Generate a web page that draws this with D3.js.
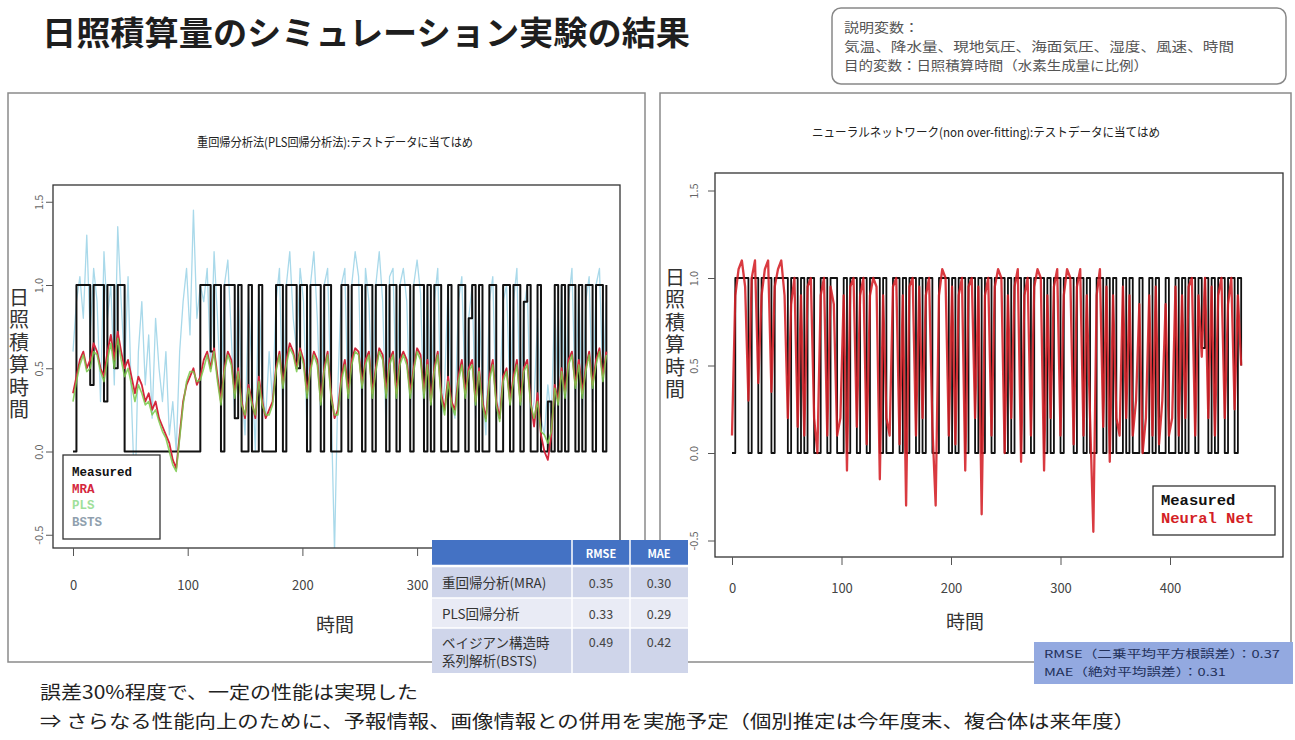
<!DOCTYPE html>
<html>
<head>
<meta charset="utf-8">
<script src="https://cdn.jsdelivr.net/npm/d3@7"></script>
<style>
  body { margin: 0; background: #fff; }
  svg { display: block; font-family: "Noto Sans CJK JP", "Noto Sans", sans-serif; }
</style>
</head>
<body>
<svg id="chart" width="1295" height="740"></svg>
<script>
// ---- data: test data, one value every 3 hours (t = 0 .. 465) ----
const timeStep = 3;

// measured sunshine (regression test set)
const measured = [
  0,1,1,1,1,0.4,1,1,1,0.3,1,1,0.5,1,1,
  0,0,0,0,0,0,0,0,0,0,0,0,0,0,0,
  0,0,0,0,0,0,0,1,
  1,1,0.6,1,1,0,1,1,1,0.2,1,
  0,0,1,0,0,1,0,0,0,0,
  1,1,0,1,1,1,0.5,1,1,0,1,1,1,0,1,1,0,
  0,0,1,1,0,
  1,1,1,0,1,1,0,1,1,1,0,1,1,0,1,
  1,1,0,1,1,1,0,1,0,1,1,0,0,1,0,
  0,1,1,0,0.8,1,0,1,0,0,1,1,0,0,1,
  1,0,1,1,0,0.9,1,0,0,1,0,0,0.3,0,1,
  0,1,0,1,1,0,1,0,1,1,0,1,1,0,1
];

const mra = [
  0.35,0.45,0.55,0.6,0.5,0.55,0.65,0.6,0.5,0.45,0.6,0.7,0.55,0.72,0.6,
  0.5,0.55,0.45,0.35,0.45,0.4,0.3,0.35,0.25,0.3,0.2,0.15,0.1,0.05,-0.05,
  -0.1,0.1,0.3,0.4,0.45,0.5,0.4,0.45,
  0.55,0.6,0.5,0.62,0.45,0.3,0.5,0.6,0.55,0.35,0.5,
  0.3,0.2,0.4,0.3,0.2,0.45,0.3,0.2,0.25,0.3,
  0.5,0.6,0.4,0.55,0.65,0.6,0.5,0.62,0.55,0.35,0.5,0.6,0.55,0.3,0.5,0.6,0.35,
  0.2,0.25,0.45,0.55,0.35,
  0.55,0.62,0.6,0.4,0.55,0.6,0.35,0.5,0.62,0.58,0.35,0.55,0.6,0.35,0.55,
  0.6,0.55,0.35,0.5,0.62,0.58,0.35,0.55,0.3,0.5,0.6,0.35,0.25,0.45,0.3,
  0.25,0.45,0.55,0.35,0.5,0.55,0.3,0.5,0.3,0.2,0.45,0.55,0.3,0.2,0.45,
  0.5,0.3,0.45,0.55,0.3,0.5,0.55,0.3,0.15,0.35,0.1,0.0,-0.05,0.1,0.4,
  0.3,0.5,0.35,0.55,0.6,0.4,0.55,0.35,0.5,0.6,0.4,0.55,0.62,0.45,0.6
];

const pls = [
  0.3,0.42,0.52,0.58,0.48,0.5,0.6,0.58,0.48,0.42,0.55,0.65,0.5,0.68,0.55,
  0.45,0.5,0.4,0.3,0.4,0.35,0.28,0.3,0.22,0.25,0.18,0.12,0.08,0.0,-0.08,
  -0.12,0.08,0.28,0.42,0.48,0.48,0.42,0.43,
  0.5,0.58,0.48,0.6,0.42,0.28,0.48,0.58,0.52,0.32,0.48,
  0.28,0.22,0.38,0.28,0.22,0.42,0.28,0.22,0.22,0.28,
  0.48,0.58,0.38,0.52,0.62,0.58,0.48,0.6,0.52,0.32,0.48,0.58,0.52,0.28,0.48,0.58,0.32,
  0.22,0.22,0.42,0.52,0.32,
  0.52,0.6,0.58,0.38,0.52,0.58,0.32,0.48,0.6,0.55,0.32,0.52,0.58,0.32,0.52,
  0.58,0.52,0.32,0.48,0.6,0.55,0.32,0.52,0.28,0.48,0.58,0.32,0.22,0.42,0.28,
  0.22,0.42,0.52,0.32,0.48,0.52,0.28,0.48,0.28,0.18,0.42,0.52,0.28,0.18,0.42,
  0.48,0.28,0.42,0.52,0.28,0.48,0.52,0.28,0.2,0.3,0.12,0.1,0.05,0.12,0.38,
  0.28,0.48,0.32,0.52,0.58,0.38,0.52,0.32,0.48,0.58,0.38,0.52,0.6,0.42,0.58
];

const bsts = [
  0.6,0.9,1.05,0.8,1.3,0.7,1.1,0.9,0.3,1.2,0.8,1.0,0.4,1.35,0.9,
  0.5,1.05,0.3,-0.3,0.6,0.9,0.4,0.7,0.2,0.8,0.5,0.3,0.6,0.1,0.3,
  0.0,0.6,0.9,1.1,0.7,1.45,0.8,1.0,
  0.9,1.1,0.5,1.2,0.8,0.3,1.0,1.15,0.7,0.2,1.0,
  0.4,0.1,0.9,0.5,0.0,1.0,0.4,0.2,0.6,0.3,
  0.9,1.1,0.2,1.0,1.2,0.8,0.6,1.1,0.9,0.1,1.0,1.2,0.8,0.2,1.0,1.1,0.3,
  -0.6,0.4,1.0,1.1,0.2,
  1.0,1.2,1.05,0.2,1.1,0.9,0.3,1.0,1.2,0.9,0.1,1.05,1.1,0.3,1.0,
  1.1,0.9,0.2,1.0,1.15,0.95,0.2,1.0,0.3,0.9,1.1,0.2,0.4,1.0,0.3,
  0.2,0.9,1.05,0.3,0.8,1.0,0.2,0.9,0.4,0.1,0.9,1.05,0.2,0.3,0.9,
  1.0,0.3,0.9,1.1,0.2,0.85,1.0,0.2,0.3,0.8,0.2,0.1,0.4,0.2,0.9,
  0.3,1.0,0.2,0.9,1.1,0.3,1.0,0.2,0.9,1.05,0.3,1.0,1.1,0.4,0.9
];

// measured sunshine (neural network test set)
const measuredNN = [
  0,1,1,1,1,0,1,1,0,1,1,1,0,1,1,
  1,1,0,1,1,0,1,0,1,1,0,0,1,1,0,
  1,1,0,0,1,0,1,1,0,1,1,0,1,1,1,
  0,1,0,0,1,1,0,1,0,1,1,0,1,0,1,
  1,0,0,1,1,1,0,1,0,1,1,0,1,1,0,
  1,0,1,1,0,1,1,1,0,1,0,1,1,0,1,
  1,0,1,1,1,0,1,0,1,1,0,1,1,1,0,
  1,1,0,1,0,0,1,1,0,1,0,1,0,0,1,
  0,1,0,0,1,0,0,1,0,1,0,0,1,0,0,
  1,0,1,0,1,1,0,1,0.6,1,0,1,0,1,1,
  0,1,1,0,1,0.5
];

const neuralNet = [
  0.1,0.9,1.05,1.1,0.95,0.3,1.0,1.1,0.4,0.9,1.05,1.1,0.35,0.95,1.05,
  1.1,0.9,0.2,0.85,1.0,0.15,0.9,0.1,0.95,1.0,0.2,0.0,0.9,1.0,0.1,
  0.95,0.85,0.1,0.2,0.9,-0.1,0.95,1.0,0.15,0.9,1.0,0.05,0.9,1.0,0.95,
  -0.15,0.9,0.2,0.1,0.95,1.0,0.05,0.9,-0.3,0.95,1.0,0.1,0.95,0.2,0.9,
  1.0,0.15,-0.3,0.9,1.05,1.0,0.1,0.95,0.05,0.9,1.0,-0.1,0.95,1.0,0.2,
  0.95,-0.35,0.9,1.0,0.1,0.95,1.05,1.0,0.0,0.9,0.2,0.95,1.05,-0.05,0.9,
  1.0,0.1,0.95,1.05,1.0,-0.1,0.9,0.2,0.95,1.05,0.1,0.9,1.05,1.0,0.05,
  0.95,1.05,0.1,0.9,0.2,-0.45,0.9,1.05,0.15,0.95,-0.05,0.9,0.2,0.1,0.95,
  0.2,0.9,0.1,0.3,0.85,0.0,0.2,0.9,0.1,0.95,0.05,0.3,0.85,0.1,0.2,
  0.95,0.1,0.9,0.2,0.95,1.0,0.1,0.9,0.55,1.0,0.2,0.95,0.1,0.9,1.0,
  0.2,0.85,1.0,0.25,0.9,0.5
];

const xTicks = [0, 100, 200, 300, 400];
const yTicks = [-0.5, 0, 0.5, 1, 1.5];
const yTickLabels = ["-0.5", "0.0", "0.5", "1.0", "1.5"];

const leftLegend = ["Measured", "MRA", "PLS", "BSTS"];
const rightLegend = ["Measured", "Neural Net"];

const tableHeader = ["", "RMSE", "MAE"];
const tableRows = [
  [["重回帰分析(MRA)"], "0.35", "0.30"],
  [["PLS回帰分析"], "0.33", "0.29"],
  [["ベイジアン構造時", "系列解析(BSTS)"], "0.49", "0.42"]
];
const nnScores = ["RMSE（二乗平均平方根誤差）：0.37", "MAE（絶対平均誤差）：0.31"];

// ---- styles ----
const col = {
  measured: "#111111",
  mra: "#d4263c",
  pls: "#79c94a",
  bsts: "#a9d9ea",
  nn: "#d41f26",
  axis: "#555555",
  text: "#333333"
};

const svg = d3.select("#chart");

// ---- slide title & notes ----
svg.append("text").attr("x", 42).attr("y", 45)
  .attr("font-size", 33).attr("font-weight", 700).attr("fill", "#1e1e1e")
  .attr("textLength", 648).attr("lengthAdjust", "spacingAndGlyphs")
  .text("日照積算量のシミュレーション実験の結果");

svg.append("rect").attr("x", 832).attr("y", 8).attr("width", 454).attr("height", 76)
  .attr("rx", 9).attr("fill", "#fff").attr("stroke", "#888").attr("stroke-width", 1.5);
const noteLines = [
  ["説明変数：", 75],
  ["気温、降水量、現地気圧、海面気圧、湿度、風速、時間", 390],
  ["目的変数：日照積算時間（水素生成量に比例）", 304]
];
noteLines.forEach(([t, w], i) => {
  svg.append("text").attr("x", 844).attr("y", 32 + i * 19)
    .attr("font-size", 13).attr("fill", "#555")
    .attr("textLength", w).attr("lengthAdjust", "spacingAndGlyphs").text(t);
});

// ---- panel frames ----
svg.append("rect").attr("x", 8).attr("y", 93).attr("width", 637).attr("height", 569)
  .attr("fill", "none").attr("stroke", "#8a8a8a").attr("stroke-width", 1.5);
svg.append("rect").attr("x", 660).attr("y", 93).attr("width", 631).attr("height", 569)
  .attr("fill", "none").attr("stroke", "#8a8a8a").attr("stroke-width", 1.5);

// ---- generic R-style plot ----
function drawPlot(cfg) {
  const g = svg.append("g");
  const x = d3.scaleLinear().domain([0, 400]).range(cfg.xRange);
  const y = d3.scaleLinear().domain([0, 1]).range(cfg.yRange);
  const b = cfg.box;

  const clipId = "clip" + cfg.id;
  g.append("clipPath").attr("id", clipId).append("rect")
    .attr("x", b.x0).attr("y", b.y0).attr("width", b.x1 - b.x0).attr("height", b.y1 - b.y0);

  // title
  g.append("text").attr("x", cfg.title.x).attr("y", cfg.title.y)
    .attr("text-anchor", "middle").attr("font-size", 12.5).attr("fill", "#222")
    .attr("textLength", cfg.title.w).attr("lengthAdjust", "spacingAndGlyphs")
    .text(cfg.title.text);

  // series
  const lines = g.append("g").attr("clip-path", `url(#${clipId})`);
  cfg.series.forEach(s => {
    const line = d3.line()
      .x((d, i) => x(i * timeStep))
      .y(d => y(d))
      .curve(s.step ? d3.curveStepAfter : d3.curveLinear);
    lines.append("path").datum(s.values)
      .attr("d", line).attr("fill", "none")
      .attr("stroke", s.color).attr("stroke-width", s.width)
      .attr("stroke-linejoin", "round").attr("opacity", s.opacity || 1);
  });

  // box
  g.append("rect").attr("x", b.x0).attr("y", b.y0)
    .attr("width", b.x1 - b.x0).attr("height", b.y1 - b.y0)
    .attr("fill", "none").attr("stroke", "#333").attr("stroke-width", 1.3);

  // x axis
  const xa = g.append("g").attr("transform", `translate(0,${b.y1})`)
    .call(d3.axisBottom(x).tickValues(xTicks).tickSize(8).tickFormat(d3.format("d")));
  xa.select(".domain").remove();
  xa.selectAll("line").attr("stroke", col.axis);
  xa.selectAll("text").attr("y", cfg.xLabelDy).attr("dy", "0.35em")
    .attr("font-size", 13).attr("fill", "#444")
    .attr("font-family", "'Noto Sans CJK JP', sans-serif");

  // y axis (labels rotated, as in R's default las = 0)
  const ya = g.append("g").attr("transform", `translate(${b.x0},0)`)
    .call(d3.axisLeft(y).tickValues(yTicks).tickSize(7)
      .tickFormat((d, i) => yTickLabels[i]));
  ya.select(".domain").remove();
  ya.selectAll("line").attr("stroke", col.axis);
  ya.selectAll("text")
    .attr("x", null).attr("dy", null).attr("y", 0)
    .attr("text-anchor", "middle").attr("dominant-baseline", "central")
    .attr("transform", `translate(${-cfg.yLabelDx},0) rotate(-90)`)
    .attr("font-size", 11).attr("fill", "#666")
    .attr("font-family", "'Noto Sans CJK JP', sans-serif");

  // axis titles
  g.append("text").attr("x", cfg.xTitle.x).attr("y", cfg.xTitle.y)
    .attr("text-anchor", "middle").attr("font-size", 19).attr("fill", col.text)
    .text("時間");
  // vertical title with upright characters
  g.append("text").attr("x", cfg.yTitle.x).attr("y", cfg.yTitle.y)
    .style("writing-mode", "vertical-rl").style("text-orientation", "upright")
    .style("letter-spacing", `${cfg.yTitle.step - cfg.yTitle.size}px`)
    .attr("font-size", cfg.yTitle.size).attr("fill", col.text)
    .text("日照積算時間");

  // legend
  const L = cfg.legend;
  g.append("rect").attr("x", L.x).attr("y", L.y).attr("width", L.w).attr("height", L.h)
    .attr("fill", "#fff").attr("stroke", "#333").attr("stroke-width", 1.3);
  L.items.forEach((it, i) => {
    g.append("text").attr("x", L.x + L.pad).attr("y", L.y + L.first + i * L.step)
      .attr("font-family", "'Liberation Mono', monospace").attr("font-weight", 700)
      .attr("font-size", L.size).attr("fill", it.color).attr("dominant-baseline", "central")
      .text(it.label);
  });
}

drawPlot({
  id: "L",
  xRange: [73, 531.8],
  yRange: [451.5, 285],
  box: { x0: 53, y0: 185, x1: 620, y1: 548 },
  xLabelDy: 37,
  yLabelDx: 15,
  title: { x: 335, y: 147, w: 276, text: "重回帰分析法(PLS回帰分析法):テストデータに当てはめ" },
  xTitle: { x: 335, y: 632 },
  yTitle: { x: 19, y: 287, step: 22.5, size: 20 },
  series: [
    { values: bsts, color: col.bsts, width: 1.3 },
    { values: measured, color: col.measured, width: 2, step: true },
    { values: mra, color: col.mra, width: 1.8 },
    { values: pls, color: col.pls, width: 1.6, opacity: 0.85 }
  ],
  legend: {
    x: 63, y: 455, w: 97, h: 84, pad: 9, first: 18, step: 16.5, size: 12.5,
    items: [
      { label: leftLegend[0], color: "#111" },
      { label: leftLegend[1], color: col.mra },
      { label: leftLegend[2], color: "#9fe09a" },
      { label: leftLegend[3], color: "#8f9fae" }
    ]
  }
});

drawPlot({
  id: "R",
  xRange: [732, 1170],
  yRange: [453, 278],
  box: { x0: 715, y0: 173, x1: 1283, y1: 557 },
  xLabelDy: 31,
  yLabelDx: 22,
  title: { x: 986, y: 137, w: 348, text: "ニューラルネットワーク(non over-fitting):テストデータに当てはめ" },
  xTitle: { x: 965, y: 629 },
  yTitle: { x: 675, y: 267, step: 22.5, size: 20 },
  series: [
    { values: measuredNN, color: col.measured, width: 1.8, step: true },
    { values: neuralNet, color: col.nn, width: 2.3, opacity: 0.88 }
  ],
  legend: {
    x: 1153, y: 486, w: 122, h: 49, pad: 8, first: 15, step: 18, size: 15.5,
    items: [
      { label: rightLegend[0], color: "#111" },
      { label: rightLegend[1], color: col.nn }
    ]
  }
});

// ---- error table for the regression models ----
const tbl = svg.append("g");
const colX = [432, 572, 630, 688];
const rowY = [540, 566, 598, 628, 673];
const rowFill = ["#4472c4", "#cfd5ea", "#e9ebf5", "#cfd5ea"];
rowFill.forEach((f, r) => {
  tbl.append("rect").attr("x", colX[0]).attr("y", rowY[r])
    .attr("width", colX[3] - colX[0]).attr("height", rowY[r + 1] - rowY[r]).attr("fill", f);
});
[1, 2].forEach(c => tbl.append("line").attr("x1", colX[c]).attr("x2", colX[c])
  .attr("y1", rowY[0]).attr("y2", rowY[4]).attr("stroke", "#fff").attr("stroke-width", 1.5));
[1, 2, 3].forEach(r => tbl.append("line").attr("x1", colX[0]).attr("x2", colX[3])
  .attr("y1", rowY[r]).attr("y2", rowY[r]).attr("stroke", "#fff").attr("stroke-width", r === 1 ? 2.5 : 1.5));
tableHeader.forEach((h, c) => {
  if (!h) return;
  tbl.append("text").attr("x", (colX[c] + colX[c + 1]) / 2).attr("y", (rowY[0] + rowY[1]) / 2)
    .attr("text-anchor", "middle").attr("dominant-baseline", "central")
    .attr("font-size", 11).attr("font-weight", 700).attr("fill", "#fff").text(h);
});
tableRows.forEach((row, r) => {
  const yc = (rowY[r + 1] + rowY[r + 2]) / 2;
  const nameLines = row[0];
  nameLines.forEach((ln, k) => {
    tbl.append("text").attr("x", 442)
      .attr("y", yc + (k - (nameLines.length - 1) / 2) * 18)
      .attr("dominant-baseline", "central").attr("font-size", 13.5).attr("fill", "#333").text(ln);
  });
  [1, 2].forEach(c => {
    tbl.append("text").attr("x", (colX[c] + colX[c + 1]) / 2).attr("y", yc - (nameLines.length > 1 ? 9 : 0))
      .attr("text-anchor", "middle").attr("dominant-baseline", "central")
      .attr("font-size", 12.5).attr("fill", "#444").text(row[c]);
  });
});

// ---- neural net score box ----
svg.append("rect").attr("x", 1034).attr("y", 642).attr("width", 259).attr("height", 42)
  .attr("fill", "#93a9e0");
nnScores.forEach((t, i) => {
  svg.append("text").attr("x", 1044).attr("y", 653 + i * 18)
    .attr("dominant-baseline", "central").attr("font-size", 11).attr("fill", "#22305a")
    .attr("textLength", i === 0 ? 236 : 182).attr("lengthAdjust", "spacingAndGlyphs").text(t);
});

// ---- conclusions ----
svg.append("text").attr("x", 40).attr("y", 699).attr("font-size", 18).attr("fill", "#222")
  .attr("textLength", 378).attr("lengthAdjust", "spacingAndGlyphs")
  .text("誤差30%程度で、一定の性能は実現した");
svg.append("text").attr("x", 40).attr("y", 728).attr("font-size", 18).attr("fill", "#222")
  .attr("textLength", 1095).attr("lengthAdjust", "spacingAndGlyphs")
  .text("⇒ さらなる性能向上のために、予報情報、画像情報との併用を実施予定（個別推定は今年度末、複合体は来年度）");
</script>
</body>
</html>
